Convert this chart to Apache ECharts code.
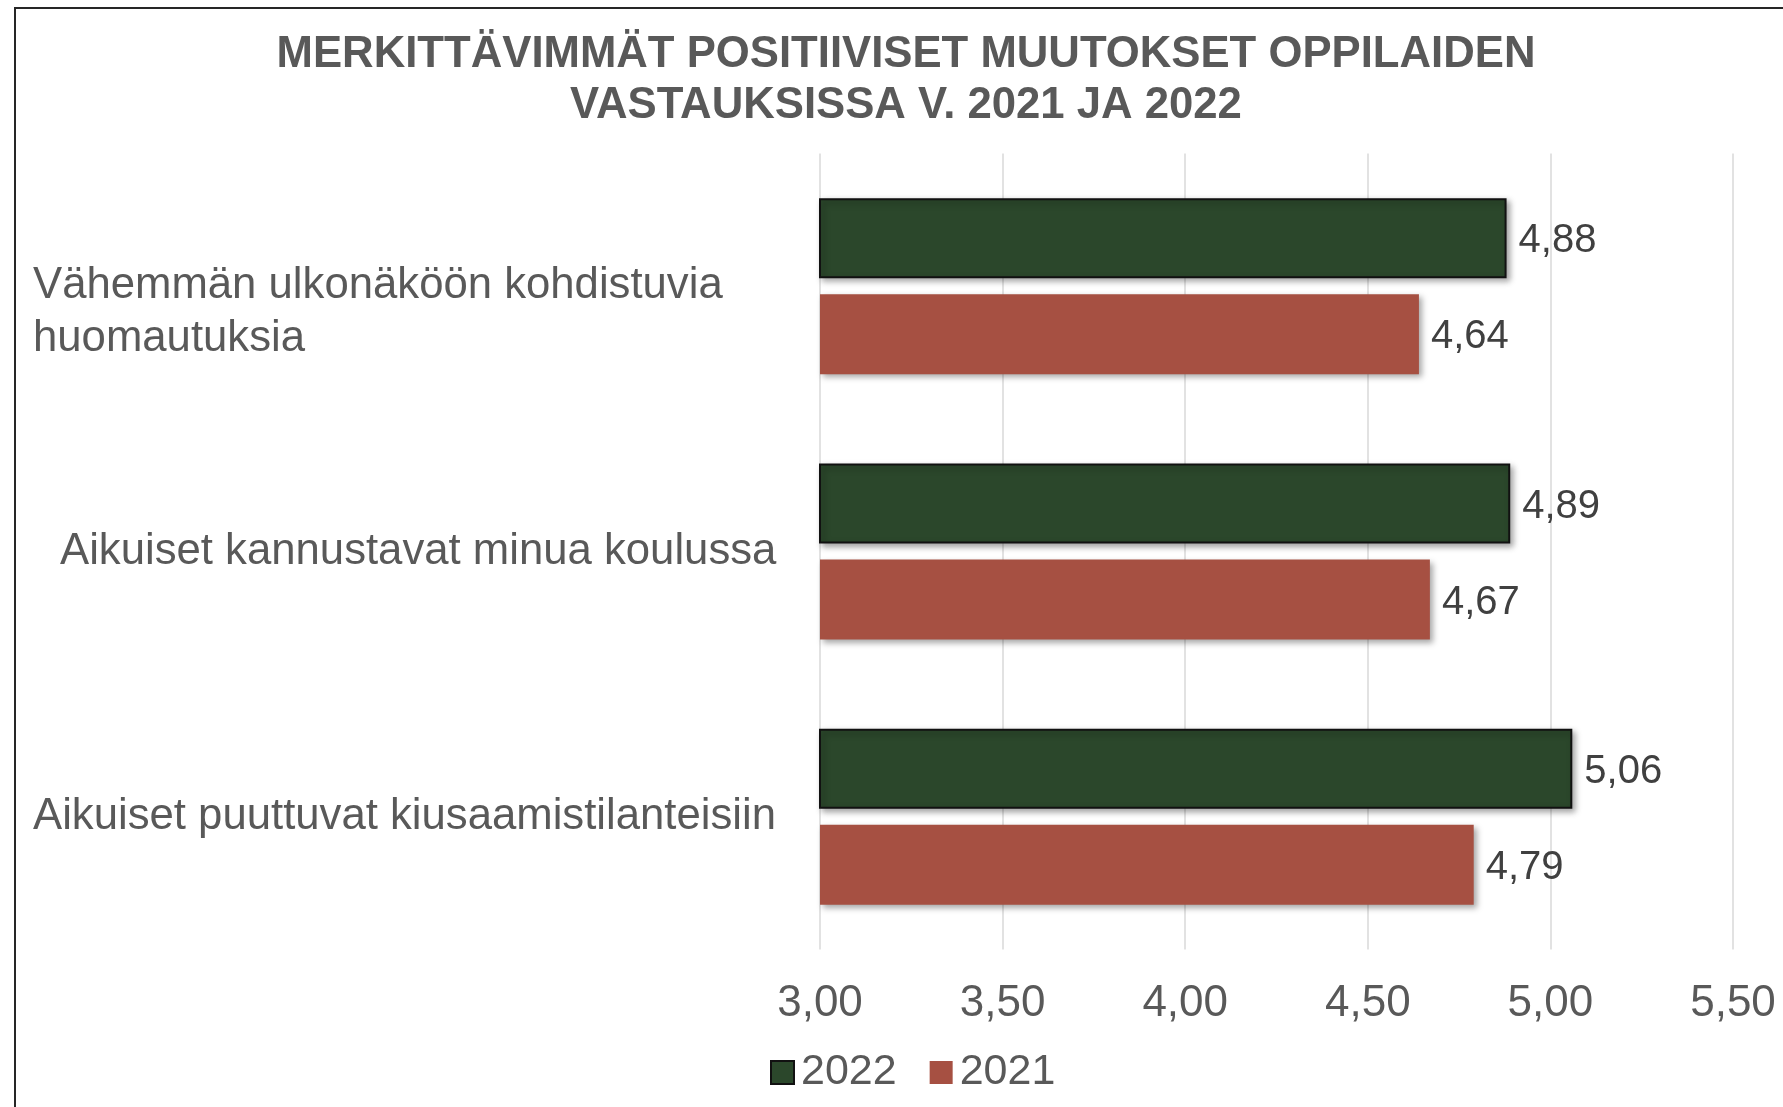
<!DOCTYPE html>
<html>
<head>
<meta charset="utf-8">
<script src="https://cdn.jsdelivr.net/npm/echarts@6/dist/echarts.min.js"></script>
<style>
  html, body { margin: 0; padding: 0; background: #fff; }
  #chart { width: 1783px; height: 1107px; }
</style>
</head>
<body>
<div id="chart"></div>
<script>
const categories = [
  'Vähemmän ulkonäköön kohdistuvia\nhuomautuksia',
  'Aikuiset kannustavat minua koulussa',
  'Aikuiset puuttuvat kiusaamistilanteisiin'
];
const values2022 = [4.88, 4.89, 5.06];
const values2021 = [4.64, 4.67, 4.79];
const seriesNames = ['2022', '2021'];
const xTicks = { min: 3, max: 5.5, step: 0.5 };

const FONT = '"Liberation Sans", Arial, sans-serif';
const fmt = v => v.toFixed(2).replace('.', ',');

const chart = echarts.init(document.getElementById('chart'));

const option = {
  backgroundColor: '#fff',
  animation: false,
  title: {
    text: 'MERKITTÄVIMMÄT POSITIIVISET MUUTOKSET OPPILAIDEN\nVASTAUKSISSA V. 2021 JA 2022',
    left: 901,
    top: 24,
    textAlign: 'center',
    textStyle: {
      fontFamily: FONT,
      fontSize: 43.7,
      fontWeight: 'bold',
      color: '#595959',
      lineHeight: 51
    }
  },
  graphic: [{
    type: 'rect',
    shape: { x: 15, y: 8, width: 2000, height: 2000 },
    style: { fill: 'none', stroke: '#262626', lineWidth: 2 },
    silent: true
  }],
  legend: {
    data: seriesNames,
    left: 765,
    top: 1046,
    itemWidth: 23,
    itemHeight: 23,
    itemGap: 33,
    icon: 'rect',
    textStyle: {
      fontFamily: FONT,
      fontSize: 43,
      color: '#595959',
      padding: [0, 0, 0, 2]
    }
  },
  grid: {
    left: 820,
    right: 50,
    top: 153.5,
    bottom: 157.5
  },
  xAxis: {
    type: 'value',
    min: xTicks.min,
    max: xTicks.max,
    interval: xTicks.step,
    axisLine: { show: false },
    axisTick: { show: false },
    splitLine: { lineStyle: { color: '#d9d9d9', width: 1.5 } },
    axisLabel: {
      fontFamily: FONT,
      fontSize: 44,
      color: '#595959',
      margin: 32,
      formatter: fmt
    }
  },
  yAxis: {
    type: 'category',
    inverse: true,
    data: categories,
    axisLine: { show: false },
    axisTick: { show: false },
    axisLabel: {
      align: 'left',
      margin: 787,
      fontFamily: FONT,
      fontSize: 43.7,
      lineHeight: 53,
      color: '#595959',
      formatter: (value, index) => {
        const lines = value.split('\n');
        const style = index === 1 ? 'pad' : 'n';
        const parts = lines.map(l => '{' + style + '|' + l + '}');
        if (lines.length > 1) parts.unshift('{n| }');
        return parts.join('\n');
      },
      rich: {
        n: { fontFamily: FONT, fontSize: 43.7, lineHeight: 53, color: '#595959' },
        pad: { fontFamily: FONT, fontSize: 43.7, lineHeight: 53, color: '#595959', padding: [0, 0, 0, 27] }
      }
    }
  },
  series: [
    {
      name: seriesNames[0],
      type: 'bar',
      data: values2022,
      barWidth: 80,
      barGap: '20%',
      itemStyle: {
        color: '#2B472B',
        borderColor: '#111',
        borderWidth: 2,
        shadowColor: 'rgba(0,0,0,0.35)',
        shadowBlur: 6,
        shadowOffsetX: 3,
        shadowOffsetY: 3
      },
      label: {
        show: true,
        position: 'right',
        distance: 12,
        offset: [0, 3],
        fontFamily: FONT,
        fontSize: 40,
        color: '#404040',
        formatter: p => fmt(p.value)
      }
    },
    {
      name: seriesNames[1],
      type: 'bar',
      data: values2021,
      barWidth: 80,
      barGap: '20%',
      itemStyle: {
        color: '#A65042',
        shadowColor: 'rgba(0,0,0,0.35)',
        shadowBlur: 6,
        shadowOffsetX: 3,
        shadowOffsetY: 3
      },
      label: {
        show: true,
        position: 'right',
        distance: 12,
        offset: [0, 3],
        fontFamily: FONT,
        fontSize: 40,
        color: '#404040',
        formatter: p => fmt(p.value)
      }
    }
  ]
};

chart.setOption(option);
window.addEventListener('resize', () => chart.resize());
</script>
</body>
</html>
